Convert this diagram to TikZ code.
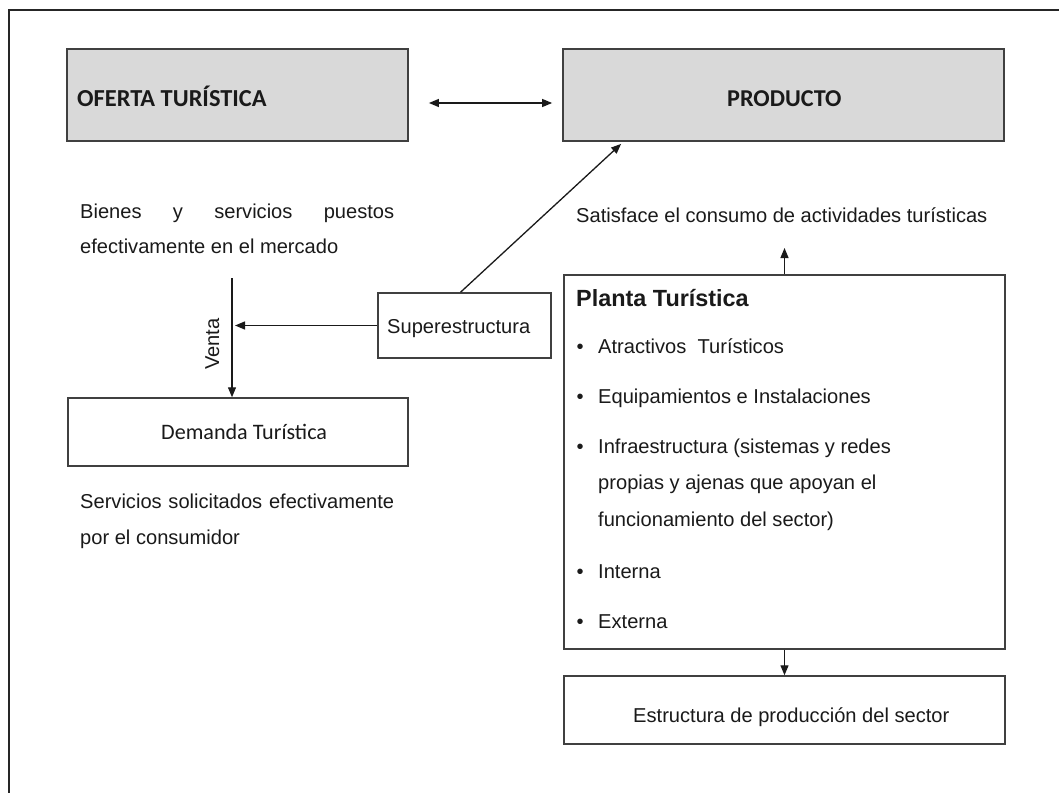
\documentclass[tikz,border=0pt]{standalone}
\usepackage{fontspec}
\setmainfont{Liberation Sans}
\newfontfamily\calibrifont{Carlito}
\usetikzlibrary{arrows.meta}
\newcommand\txtsize{\fontsize{20.1}{24}\selectfont}
\definecolor{boxgray}{HTML}{D9D9D9}
\definecolor{edgegray}{HTML}{404040}
\definecolor{inkc}{HTML}{1A1A1A}
\begin{document}
\begin{tikzpicture}[x=1pt,y=-1pt,
  graybox/.style={draw=edgegray, fill=boxgray, line width=1.8pt, inner sep=0pt},
  whitebox/.style={draw=edgegray, fill=white, line width=1.5pt, inner sep=0pt},
  lbl/.style={anchor=base west, inner sep=0pt, text=inkc, font=\txtsize},
  conn/.style={draw=inkc, line width=1.3pt},
  arr/.style={conn, -{Triangle[length=10pt,width=8pt]}},
  darr/.style={conn, {Triangle[length=10pt,width=8pt]}-{Triangle[length=10pt,width=8pt]}}
]
\useasboundingbox (0,0) rectangle (1059,792);
\fill[white] (0,0) rectangle (1059,792);
% outer frame (clipped at the right and bottom)
\draw[draw=black!85, line width=2pt] (9,800) -- (9,10) -- (1070,10);

% boxes
\node[graybox, minimum width=341pt, minimum height=92pt] (oferta) at (237.5,95) {};
\node[graybox, minimum width=441pt, minimum height=92pt] (producto) at (783.5,95) {};
\node[whitebox, minimum width=173pt, minimum height=65pt] (super) at (464.5,325.5) {};
\node[whitebox, minimum width=340pt, minimum height=68pt] (demanda) at (238,432) {};
\node[whitebox, minimum width=441pt, minimum height=374pt] (planta) at (784.5,462) {};
\node[whitebox, minimum width=441pt, minimum height=68pt] (estructura) at (784.5,710) {};

% box texts
\node[lbl, font=\calibrifont\bfseries\fontsize{24.4}{28}\selectfont] (tOferta) at (77,106) {OFERTA TURÍSTICA};
\node[lbl, font=\calibrifont\bfseries\fontsize{24.2}{28}\selectfont] (tProducto) at (727,106) {PRODUCTO};
\node[lbl] (tSuper) at (387,333) {Superestructura};
\node[lbl, font=\calibrifont\fontsize{22.1}{26}\selectfont] (tDemanda) at (161,439) {Demanda Turística};
\node[lbl] (tEstructura) at (633,722) {Estructura de producción del sector};

% free texts
\node[lbl] (bienes1) at (80,218) {\makebox[314pt][l]{Bienes\hfill y\hfill servicios\hfill puestos}};
\node[lbl] (bienes2) at (80,253) {efectivamente en el mercado};
\node[lbl] (serv1) at (80,508) {\makebox[314pt][l]{Servicios\hfill solicitados\hfill efectivamente}};
\node[lbl] (serv2) at (80,544) {por el consumidor};
\node[lbl] (satisf) at (576,222) {Satisface el consumo de actividades turísticas};
\node[lbl, rotate=90] (venta) at (219,370) {Venta};

% Planta Turística content
\node[lbl, font=\bfseries\fontsize{23.4}{28}\selectfont] (tPlanta) at (576,306) {Planta Turística};
\foreach \yy/\nm/\tx in {353/atr/{Atractivos\ \ Turísticos},403/equ/{Equipamientos e Instalaciones},453/inf/{Infraestructura (sistemas y redes},489/prop/{propias y ajenas que apoyan el},526/func/{funcionamiento del sector)},578/int/{Interna},628/ext/{Externa}}{
  \node[lbl] (\nm) at (598,\yy) {\tx};
}
\foreach \yy/\nm in {353/b1,403/b2,453/b3,578/b4,628/b5}{
  \node[lbl] (\nm) at (576.5,\yy) {•};
}

% connectors
\draw[darr] ([shift={(20,8)}]oferta.east) -- ([shift={(-10,8)}]producto.west);
\draw[arr] ([xshift=-4pt]super.north) -- ([shift={(59,2)}]producto.south west);
\coordinate (vtop) at (232,278);
\draw[arr] (vtop) -- (vtop |- demanda.north);
\draw[arr, shorten >=3pt] (super.west) -- (vtop |- super.west);
\coordinate (sattip) at (784.5,248);
\draw[arr] (planta.north) -- (sattip);
\draw[arr] (planta.south) -- (estructura.north);
\end{tikzpicture}
\end{document}
